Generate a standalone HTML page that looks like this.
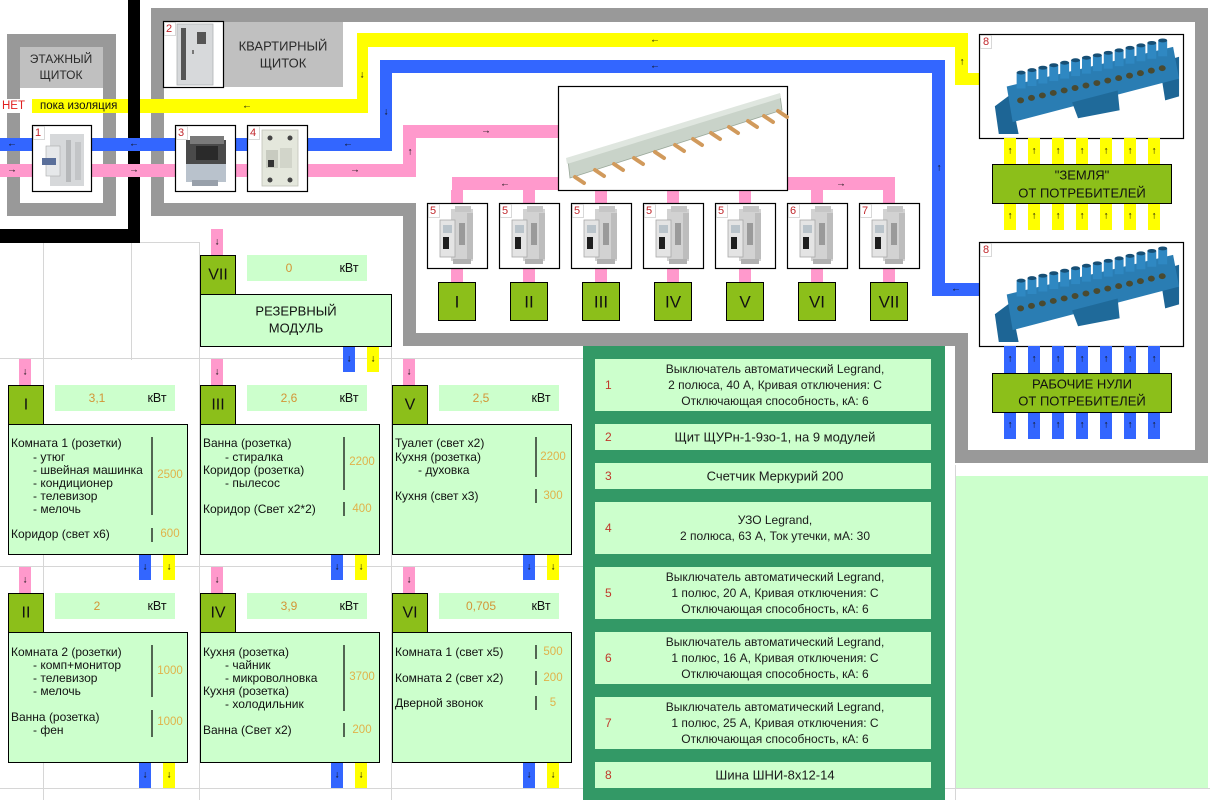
<!DOCTYPE html>
<html><head><meta charset="utf-8"><style>
html,body{margin:0;padding:0;background:#fff;}
svg{display:block;font-family:"Liberation Sans","DejaVu Sans",sans-serif;}
.t{font-size:12px;fill:#111;}
.v{font-size:11.5px;fill:#e0b24a;}
.kv{font-size:12px;fill:#d39536;}
.ar{font-size:10px;fill:#111;}
.num{font-size:11px;fill:#c0262b;}
.tb{font-size:12px;fill:#1a1a1a;}
.tn{font-size:12px;fill:#c0392b;}
</style></head><body>
<svg width="1210" height="800" viewBox="0 0 1210 800" xmlns="http://www.w3.org/2000/svg">
<defs>
<symbol id="brk" viewBox="0 0 60 65">
<rect x="24" y="6" width="22" height="52" fill="#d2d2d2"/>
<rect x="28" y="3" width="16" height="6" fill="#c6c6c6"/>
<rect x="13" y="17" width="15" height="37" fill="#e4e4e4" stroke="#a8a8a8" stroke-width="0.8"/>
<rect x="16" y="34" width="6" height="12" fill="#1e1e1e"/>
<rect x="16" y="22" width="9" height="8" fill="#b9c3ca"/>
<rect x="32" y="20" width="6" height="22" fill="#9a9a9a"/>
<rect x="40" y="10" width="6" height="46" fill="#bdbdbd"/>
<rect x="26" y="56" width="18" height="5" fill="#b0b0b0"/>
</symbol>
<symbol id="term" viewBox="0 0 203 104">
<polygon points="14,72 30,60 38,100 18,100" fill="#1d6595"/>
<polygon points="180,28 200,22 200,62 186,66" fill="#1d6595"/>
<polygon points="26,52 194,12 200,44 32,88" fill="#2a7db3"/>
<polygon points="92,68 138,56 140,76 98,84" fill="#1f6a9a"/>
<g fill="#2f88c2">
<rect x="36" y="38" width="9" height="16"/><rect x="47" y="35.5" width="9" height="16"/><rect x="58" y="33" width="9" height="16"/><rect x="69" y="30.5" width="9" height="16"/><rect x="80" y="28" width="9" height="16"/><rect x="91" y="25.5" width="9" height="16"/><rect x="102" y="23" width="9" height="16"/><rect x="113" y="20.5" width="9" height="16"/><rect x="124" y="18" width="9" height="16"/><rect x="135" y="15.5" width="9" height="16"/><rect x="146" y="13" width="9" height="16"/><rect x="157" y="10.5" width="9" height="16"/><rect x="168" y="8" width="9" height="16"/><rect x="179" y="5.5" width="9" height="16"/>
</g>
<g fill="#174f75">
<ellipse cx="40.5" cy="38" rx="4.5" ry="2"/><ellipse cx="51.5" cy="35.5" rx="4.5" ry="2"/><ellipse cx="62.5" cy="33" rx="4.5" ry="2"/><ellipse cx="73.5" cy="30.5" rx="4.5" ry="2"/><ellipse cx="84.5" cy="28" rx="4.5" ry="2"/><ellipse cx="95.5" cy="25.5" rx="4.5" ry="2"/><ellipse cx="106.5" cy="23" rx="4.5" ry="2"/><ellipse cx="117.5" cy="20.5" rx="4.5" ry="2"/><ellipse cx="128.5" cy="18" rx="4.5" ry="2"/><ellipse cx="139.5" cy="15.5" rx="4.5" ry="2"/><ellipse cx="150.5" cy="13" rx="4.5" ry="2"/><ellipse cx="161.5" cy="10.5" rx="4.5" ry="2"/><ellipse cx="172.5" cy="8" rx="4.5" ry="2"/><ellipse cx="183.5" cy="5.5" rx="4.5" ry="2"/>
</g>
<g fill="#4a4a30">
<ellipse cx="40" cy="66" rx="3.5" ry="3"/><ellipse cx="51" cy="63.5" rx="3.5" ry="3"/><ellipse cx="62" cy="61" rx="3.5" ry="3"/><ellipse cx="73" cy="58.5" rx="3.5" ry="3"/><ellipse cx="84" cy="56" rx="3.5" ry="3"/><ellipse cx="95" cy="53.5" rx="3.5" ry="3"/><ellipse cx="106" cy="51" rx="3.5" ry="3"/><ellipse cx="117" cy="48.5" rx="3.5" ry="3"/><ellipse cx="128" cy="46" rx="3.5" ry="3"/><ellipse cx="139" cy="43.5" rx="3.5" ry="3"/><ellipse cx="150" cy="41" rx="3.5" ry="3"/><ellipse cx="161" cy="38.5" rx="3.5" ry="3"/><ellipse cx="172" cy="36" rx="3.5" ry="3"/><ellipse cx="183" cy="33.5" rx="3.5" ry="3"/>
</g>
</symbol>
</defs>

<!-- faint grid lines -->
<g stroke="#d6d6d6" stroke-width="1">
<line x1="43.5" y1="243" x2="43.5" y2="800"/>
<line x1="131.5" y1="243" x2="131.5" y2="360"/>
<line x1="0" y1="242.5" x2="200" y2="242.5"/>
<line x1="199.5" y1="243" x2="199.5" y2="800"/>
<line x1="0" y1="358.5" x2="583" y2="358.5"/>
<line x1="0" y1="566.5" x2="583" y2="566.5"/>
<line x1="0" y1="788.5" x2="583" y2="788.5"/>
<line x1="955.5" y1="465" x2="955.5" y2="800"/>
<line x1="945" y1="788.5" x2="1210" y2="788.5"/>
<line x1="391.5" y1="346" x2="391.5" y2="800"/>
</g>

<!-- big grey frame -->
<path d="M151,8 H1208 V463 H955 V346 H403 V216 H151 Z M164,22 V203 H416 V333 H968 V450 H1195 V22 Z" fill="#999" fill-rule="evenodd"/>
<rect x="223" y="22" width="120" height="65" fill="#c0c0c0"/>
<text x="283" y="46" font-size="13" fill="#2a2a2a" text-anchor="middle" dominant-baseline="central">КВАРТИРНЫЙ</text>
<text x="283" y="63" font-size="13" fill="#2a2a2a" text-anchor="middle" dominant-baseline="central">ЩИТОК</text>

<!-- floor panel frame -->
<path d="M7,34 H116 V216 H7 Z M20,47 V203 H103 V47 Z" fill="#999" fill-rule="evenodd"/>
<rect x="20" y="47" width="83" height="41" fill="#c0c0c0"/>
<text x="61" y="59" font-size="12" fill="#2a2a2a" text-anchor="middle" dominant-baseline="central">ЭТАЖНЫЙ</text>
<text x="61" y="75" font-size="12" fill="#2a2a2a" text-anchor="middle" dominant-baseline="central">ЩИТОК</text>

<!-- yellow -->
<rect x="0" y="99" width="32" height="14" fill="#fff"/>
<text x="2" y="106" font-size="11.5" fill="#e02020" dominant-baseline="central">НЕТ</text>
<g fill="#ffff00">
<rect x="32" y="99" width="336" height="14"/>
<rect x="357" y="33" width="11" height="80"/>
<rect x="357" y="33" width="611" height="14"/>
<rect x="955" y="33" width="13" height="52"/>
<rect x="955" y="73" width="25" height="12"/>
</g>
<text x="40" y="106" font-size="11.5" fill="#111" dominant-baseline="central">пока изоляция</text>

<!-- black -->
<rect x="128" y="0" width="12" height="243" fill="#000"/>
<rect x="0" y="229" width="140" height="14" fill="#000"/>

<!-- blue -->
<g fill="#3366ff">
<rect x="0" y="138" width="392" height="13"/>
<rect x="380" y="60" width="12" height="91"/>
<rect x="380" y="60" width="565" height="13"/>
<rect x="932" y="60" width="13" height="236"/>
<rect x="932" y="283" width="48" height="13"/>
</g>
<!-- pink -->
<g fill="#ff99cc">
<rect x="0" y="164" width="416" height="13"/>
<rect x="403" y="125" width="13" height="52"/>
<rect x="403" y="125" width="155" height="13"/>
<rect x="452" y="177" width="443" height="13"/>
<rect x="451" y="190" width="12" height="13"/><rect x="523" y="190" width="12" height="13"/><rect x="595" y="190" width="12" height="13"/><rect x="667" y="190" width="12" height="13"/><rect x="739" y="190" width="12" height="13"/><rect x="811" y="190" width="12" height="13"/><rect x="883" y="190" width="12" height="13"/>
<rect x="451" y="268" width="12" height="14"/><rect x="523" y="268" width="12" height="14"/><rect x="595" y="268" width="12" height="14"/><rect x="667" y="268" width="12" height="14"/><rect x="739" y="268" width="12" height="14"/><rect x="811" y="268" width="12" height="14"/><rect x="883" y="268" width="12" height="14"/>
</g>

<!-- arrows on lines -->
<g class="ar" text-anchor="middle" dominant-baseline="central">
<text x="247" y="106">←</text>
<text x="655" y="40">←</text>
<text x="962" y="62">↑</text>
<text x="362" y="75">↓</text>
<text x="12" y="144">←</text>
<text x="134" y="144">←</text>
<text x="348" y="144">←</text>
<text x="655" y="66">←</text>
<text x="386" y="112">↓</text>
<text x="939" y="168">↑</text>
<text x="956" y="289">←</text>
<text x="12" y="170">→</text>
<text x="134" y="170">→</text>
<text x="355" y="170">→</text>
<text x="410" y="152">↑</text>
<text x="486" y="131">→</text>
<text x="505" y="184">←</text>
<text x="841" y="184">→</text>
</g>

<!-- image boxes -->
<g fill="#fff" stroke="#000" stroke-width="1.2">
<rect x="32.5" y="125.5" width="59" height="66"/>
<rect x="175.5" y="125.5" width="60" height="66"/>
<rect x="247.5" y="125.5" width="60" height="66"/>
<rect x="163.5" y="21.5" width="60" height="66"/>
<rect x="558.5" y="86.5" width="229" height="104"/>
<rect x="427.5" y="203.5" width="60" height="65"/>
<rect x="499.5" y="203.5" width="60" height="65"/>
<rect x="571.5" y="203.5" width="60" height="65"/>
<rect x="643.5" y="203.5" width="60" height="65"/>
<rect x="715.5" y="203.5" width="60" height="65"/>
<rect x="787.5" y="203.5" width="60" height="65"/>
<rect x="859.5" y="203.5" width="60" height="65"/>
<rect x="979.5" y="34.5" width="204" height="104"/>
<rect x="979.5" y="242.5" width="204" height="104"/>
</g>

<!-- box 1: 2-pole breaker -->
<g>
<rect x="50" y="134" width="34" height="52" fill="#d6d8da"/>
<rect x="46" y="146" width="14" height="30" fill="#e6e8ea" stroke="#aaa" stroke-width="0.6"/>
<rect x="42" y="158" width="14" height="7" fill="#5a6f9a"/>
<rect x="66" y="140" width="5" height="42" fill="#b6b8ba"/>
<rect x="75" y="142" width="6" height="38" fill="#c3c5c7"/>
</g>
<!-- box 3: meter -->
<g>
<rect x="186" y="140" width="40" height="24" fill="#4a4a4a"/>
<rect x="190" y="136" width="34" height="8" fill="#7a7a7a"/>
<rect x="196" y="146" width="22" height="14" fill="#2a2a2a"/>
<rect x="186" y="164" width="40" height="18" fill="#b9c2cc"/>
<rect x="192" y="180" width="26" height="6" fill="#98a0aa"/>
</g>
<!-- box 4: RCD -->
<g>
<rect x="262" y="130" width="36" height="56" fill="#e4e7dc" stroke="#c0c4b8" stroke-width="0.8"/>
<circle cx="270" cy="138" r="2.5" fill="#444"/><circle cx="290" cy="138" r="2.5" fill="#444"/>
<circle cx="270" cy="180" r="2.5" fill="#444"/><circle cx="290" cy="180" r="2.5" fill="#444"/>
<rect x="266" y="150" width="12" height="18" fill="#c8cbc0"/>
<rect x="280" y="148" width="12" height="20" fill="#d2d5ca"/>
<rect x="268" y="160" width="6" height="7" fill="#333"/>
</g>
<!-- box 2: cabinet -->
<g>
<rect x="177" y="24" width="36" height="61" fill="#d7d9db" stroke="#b0b2b4" stroke-width="0.8"/>
<rect x="181" y="28" width="5" height="52" fill="#555"/>
<rect x="197" y="32" width="9" height="12" fill="#555"/>
<rect x="192" y="50" width="2" height="4" fill="#777"/>
</g>
<!-- busbar comb -->
<g>
<polygon points="568,160 780,95 782,110 570,178" fill="#c9d3c9" stroke="#9aa89a" stroke-width="0.8"/>
<polygon points="566,158 780,93 781,98 567,164" fill="#dfe6df"/>
<g stroke="#d19a5c" stroke-width="4" stroke-linecap="round">
<line x1="575" y1="177" x2="584" y2="183"/>
<line x1="595" y1="170" x2="604" y2="176"/>
<line x1="614" y1="164" x2="623" y2="170"/>
<line x1="634" y1="158" x2="643" y2="164"/>
<line x1="655" y1="152" x2="664" y2="158"/>
<line x1="675" y1="145" x2="684" y2="151"/>
<line x1="693" y1="139" x2="702" y2="145"/>
<line x1="711" y1="133" x2="720" y2="139"/>
<line x1="729" y1="127" x2="738" y2="133"/>
<line x1="748" y1="121" x2="757" y2="127"/>
<line x1="764" y1="116" x2="773" y2="122"/>
<line x1="778" y1="111" x2="787" y2="117"/>
</g>
</g>
<!-- breakers -->
<use href="#brk" x="427" y="203" width="60" height="65"/>
<use href="#brk" x="499" y="203" width="60" height="65"/>
<use href="#brk" x="571" y="203" width="60" height="65"/>
<use href="#brk" x="643" y="203" width="60" height="65"/>
<use href="#brk" x="715" y="203" width="60" height="65"/>
<use href="#brk" x="787" y="203" width="60" height="65"/>
<use href="#brk" x="859" y="203" width="60" height="65"/>
<!-- terminal bars -->
<use href="#term" x="980" y="35" width="203" height="103"/>
<use href="#term" x="980" y="243" width="203" height="103"/>

<!-- small number cells -->
<g fill="none" stroke="#cfcfcf" stroke-width="0.8">
<rect x="33.5" y="126.5" width="11" height="13"/><rect x="176.5" y="126.5" width="11" height="13"/><rect x="248.5" y="126.5" width="11" height="13"/><rect x="164.5" y="22.5" width="11" height="13"/>
<rect x="428.5" y="204.5" width="11" height="13"/><rect x="500.5" y="204.5" width="11" height="13"/><rect x="572.5" y="204.5" width="11" height="13"/><rect x="644.5" y="204.5" width="11" height="13"/><rect x="716.5" y="204.5" width="11" height="13"/><rect x="788.5" y="204.5" width="11" height="13"/><rect x="860.5" y="204.5" width="11" height="13"/>
<rect x="980.5" y="35.5" width="11" height="13"/><rect x="980.5" y="243.5" width="11" height="13"/>
</g>
<g class="num" dominant-baseline="central">
<text x="35" y="133">1</text><text x="178" y="133">3</text><text x="250" y="133">4</text><text x="166" y="29">2</text>
<text x="430" y="211">5</text><text x="502" y="211">5</text><text x="574" y="211">5</text><text x="646" y="211">5</text><text x="718" y="211">5</text><text x="790" y="211">6</text><text x="862" y="211">7</text>
<text x="983" y="42">8</text><text x="983" y="250">8</text>
</g>

<!-- green circuit boxes -->
<g fill="#8cbf1a" stroke="#000" stroke-width="1">
<rect x="438.5" y="282.5" width="37" height="38"/>
<rect x="510.5" y="282.5" width="37" height="38"/>
<rect x="582.5" y="282.5" width="37" height="38"/>
<rect x="654.5" y="282.5" width="37" height="38"/>
<rect x="726.5" y="282.5" width="37" height="38"/>
<rect x="798.5" y="282.5" width="37" height="38"/>
<rect x="870.5" y="282.5" width="37" height="38"/>
</g>
<g font-size="17" fill="#111" text-anchor="middle" dominant-baseline="central">
<text x="457" y="302">I</text><text x="529" y="302">II</text><text x="601" y="302">III</text><text x="673" y="302">IV</text><text x="745" y="302">V</text><text x="817" y="302">VI</text><text x="889" y="302">VII</text>
</g>

<!-- right side strips -->
<g fill="#ffff00">
<rect x="1004" y="138" width="12" height="27"/><rect x="1028" y="138" width="12" height="27"/><rect x="1052" y="138" width="12" height="27"/><rect x="1076" y="138" width="12" height="27"/><rect x="1100" y="138" width="12" height="27"/><rect x="1124" y="138" width="12" height="27"/><rect x="1148" y="138" width="12" height="27"/>
<rect x="1004" y="203" width="12" height="27"/><rect x="1028" y="203" width="12" height="27"/><rect x="1052" y="203" width="12" height="27"/><rect x="1076" y="203" width="12" height="27"/><rect x="1100" y="203" width="12" height="27"/><rect x="1124" y="203" width="12" height="27"/><rect x="1148" y="203" width="12" height="27"/>
</g>
<g fill="#3366ff">
<rect x="1004" y="346" width="12" height="27"/><rect x="1028" y="346" width="12" height="27"/><rect x="1052" y="346" width="12" height="27"/><rect x="1076" y="346" width="12" height="27"/><rect x="1100" y="346" width="12" height="27"/><rect x="1124" y="346" width="12" height="27"/><rect x="1148" y="346" width="12" height="27"/>
<rect x="1004" y="412" width="12" height="27"/><rect x="1028" y="412" width="12" height="27"/><rect x="1052" y="412" width="12" height="27"/><rect x="1076" y="412" width="12" height="27"/><rect x="1100" y="412" width="12" height="27"/><rect x="1124" y="412" width="12" height="27"/><rect x="1148" y="412" width="12" height="27"/>
</g>
<g class="ar" text-anchor="middle" dominant-baseline="central">
<text x="1010" y="151">↑</text><text x="1034" y="151">↑</text><text x="1058" y="151">↑</text><text x="1082" y="151">↑</text><text x="1106" y="151">↑</text><text x="1130" y="151">↑</text><text x="1154" y="151">↑</text>
<text x="1010" y="216">↑</text><text x="1034" y="216">↑</text><text x="1058" y="216">↑</text><text x="1082" y="216">↑</text><text x="1106" y="216">↑</text><text x="1130" y="216">↑</text><text x="1154" y="216">↑</text>
<text x="1010" y="359">↑</text><text x="1034" y="359">↑</text><text x="1058" y="359">↑</text><text x="1082" y="359">↑</text><text x="1106" y="359">↑</text><text x="1130" y="359">↑</text><text x="1154" y="359">↑</text>
<text x="1010" y="425">↑</text><text x="1034" y="425">↑</text><text x="1058" y="425">↑</text><text x="1082" y="425">↑</text><text x="1106" y="425">↑</text><text x="1130" y="425">↑</text><text x="1154" y="425">↑</text>
</g>
<rect x="992.5" y="164.5" width="179" height="39" fill="#8cbf1a" stroke="#000" stroke-width="1"/>
<text x="1082" y="175" font-size="13" fill="#111" text-anchor="middle" dominant-baseline="central">"ЗЕМЛЯ"</text>
<text x="1082" y="193" font-size="13" fill="#111" text-anchor="middle" dominant-baseline="central">ОТ ПОТРЕБИТЕЛЕЙ</text>
<rect x="992.5" y="373.5" width="179" height="39" fill="#8cbf1a" stroke="#000" stroke-width="1"/>
<text x="1082" y="384" font-size="13" fill="#111" text-anchor="middle" dominant-baseline="central">РАБОЧИЕ НУЛИ</text>
<text x="1082" y="401" font-size="13" fill="#111" text-anchor="middle" dominant-baseline="central">ОТ ПОТРЕБИТЕЛЕЙ</text>

<!-- light green area bottom right -->
<rect x="956" y="476" width="252" height="312" fill="#ccffcc"/>

<!-- ===== Load modules ===== -->
<g fill="#ff99cc">
<rect x="211" y="229" width="12" height="26"/>
<rect x="19" y="359" width="12" height="26"/><rect x="211" y="359" width="12" height="26"/><rect x="403" y="359" width="12" height="26"/>
<rect x="19" y="567" width="12" height="26"/><rect x="211" y="567" width="12" height="26"/><rect x="403" y="567" width="12" height="26"/>
</g>
<g fill="#3366ff">
<rect x="343" y="346" width="12" height="26"/>
<rect x="139" y="554" width="12" height="26"/><rect x="331" y="554" width="12" height="26"/><rect x="523" y="554" width="12" height="26"/>
<rect x="139" y="762" width="12" height="26"/><rect x="331" y="762" width="12" height="26"/><rect x="523" y="762" width="12" height="26"/>
</g>
<g fill="#ffff00">
<rect x="367" y="346" width="12" height="26"/>
<rect x="163" y="554" width="12" height="26"/><rect x="355" y="554" width="12" height="26"/><rect x="547" y="554" width="12" height="26"/>
<rect x="163" y="762" width="12" height="26"/><rect x="355" y="762" width="12" height="26"/><rect x="547" y="762" width="12" height="26"/>
</g>
<g class="ar" text-anchor="middle" dominant-baseline="central">
<text x="217" y="242">↓</text>
<text x="25" y="372">↓</text><text x="217" y="372">↓</text><text x="409" y="372">↓</text>
<text x="25" y="580">↓</text><text x="217" y="580">↓</text><text x="409" y="580">↓</text>
<text x="349" y="359">↓</text><text x="373" y="359">↓</text>
<text x="145" y="567">↓</text><text x="169" y="567">↓</text><text x="337" y="567">↓</text><text x="361" y="567">↓</text><text x="529" y="567">↓</text><text x="553" y="567">↓</text>
<text x="145" y="775">↓</text><text x="169" y="775">↓</text><text x="337" y="775">↓</text><text x="361" y="775">↓</text><text x="529" y="775">↓</text><text x="553" y="775">↓</text>
</g>

<!-- kW boxes -->
<g fill="#ccffcc">
<rect x="247" y="255" width="120" height="26"/>
<rect x="55" y="385" width="120" height="26"/><rect x="247" y="385" width="120" height="26"/><rect x="439" y="385" width="120" height="26"/>
<rect x="55" y="593" width="120" height="26"/><rect x="247" y="593" width="120" height="26"/><rect x="439" y="593" width="120" height="26"/>
</g>
<g class="kv" text-anchor="middle" dominant-baseline="central">
<text x="289" y="268">0</text>
<text x="97" y="398">3,1</text><text x="289" y="398">2,6</text><text x="481" y="398">2,5</text>
<text x="97" y="606">2</text><text x="289" y="606">3,9</text><text x="481" y="606">0,705</text>
</g>
<g font-size="12.5" fill="#111" text-anchor="middle" dominant-baseline="central">
<text x="349" y="268">кВт</text>
<text x="157" y="398">кВт</text><text x="349" y="398">кВт</text><text x="541" y="398">кВт</text>
<text x="157" y="606">кВт</text><text x="349" y="606">кВт</text><text x="541" y="606">кВт</text>
</g>

<!-- label boxes -->
<g fill="#8cbf1a" stroke="#000" stroke-width="1">
<rect x="200.5" y="255.5" width="35" height="39"/>
<rect x="8.5" y="385.5" width="35" height="39"/><rect x="200.5" y="385.5" width="35" height="39"/><rect x="392.5" y="385.5" width="35" height="39"/>
<rect x="8.5" y="593.5" width="35" height="39"/><rect x="200.5" y="593.5" width="35" height="39"/><rect x="392.5" y="593.5" width="35" height="39"/>
</g>
<g font-size="16" fill="#111" text-anchor="middle" dominant-baseline="central">
<text x="218" y="275">VII</text>
<text x="26" y="405">I</text><text x="218" y="405">III</text><text x="410" y="405">V</text>
<text x="26" y="613">II</text><text x="218" y="613">IV</text><text x="410" y="613">VI</text>
</g>

<!-- main module boxes -->
<g fill="#ccffcc" stroke="#000" stroke-width="1">
<rect x="200.5" y="294.5" width="191" height="52"/>
<rect x="8.5" y="424.5" width="179" height="130"/><rect x="200.5" y="424.5" width="179" height="130"/><rect x="392.5" y="424.5" width="179" height="130"/>
<rect x="8.5" y="632.5" width="179" height="130"/><rect x="200.5" y="632.5" width="179" height="130"/><rect x="392.5" y="632.5" width="179" height="130"/>
</g>
<text x="296" y="311" font-size="13" fill="#111" text-anchor="middle" dominant-baseline="central">РЕЗЕРВНЫЙ</text>
<text x="296" y="328" font-size="13" fill="#111" text-anchor="middle" dominant-baseline="central">МОДУЛЬ</text>

<!-- dividers -->
<g stroke="#000" stroke-width="1.2">
<line x1="152" y1="437" x2="152" y2="515"/><line x1="152" y1="528" x2="152" y2="542"/>
<line x1="344" y1="437" x2="344" y2="490"/><line x1="344" y1="502" x2="344" y2="516"/>
<line x1="536" y1="437" x2="536" y2="477"/><line x1="536" y1="489" x2="536" y2="503"/>
<line x1="152" y1="645" x2="152" y2="697"/><line x1="152" y1="710" x2="152" y2="737"/>
<line x1="344" y1="645" x2="344" y2="711"/><line x1="344" y1="723" x2="344" y2="737"/>
<line x1="536" y1="645" x2="536" y2="659"/><line x1="536" y1="671" x2="536" y2="685"/><line x1="536" y1="696" x2="536" y2="710"/>
</g>

<!-- module texts -->
<g class="t" dominant-baseline="central">
<text x="11" y="443">Комната 1 (розетки)</text>
<text x="33" y="457">- утюг</text>
<text x="33" y="470">- швейная машинка</text>
<text x="33" y="483">- кондиционер</text>
<text x="33" y="496">- телевизор</text>
<text x="33" y="509">- мелочь</text>
<text x="11" y="534">Коридор (свет х6)</text>

<text x="203" y="443">Ванна (розетка)</text>
<text x="225" y="457">- стиралка</text>
<text x="203" y="470">Коридор (розетка)</text>
<text x="225" y="483">- пылесос</text>
<text x="203" y="509">Коридор (Свет х2*2)</text>

<text x="395" y="443">Туалет (свет х2)</text>
<text x="395" y="457">Кухня (розетка)</text>
<text x="418" y="470">- духовка</text>
<text x="395" y="496">Кухня (свет х3)</text>

<text x="11" y="652">Комната 2 (розетки)</text>
<text x="33" y="665">- комп+монитор</text>
<text x="33" y="678">- телевизор</text>
<text x="33" y="691">- мелочь</text>
<text x="11" y="717">Ванна (розетка)</text>
<text x="33" y="730">- фен</text>

<text x="203" y="652">Кухня (розетка)</text>
<text x="225" y="665">- чайник</text>
<text x="225" y="678">- микроволновка</text>
<text x="203" y="691">Кухня (розетка)</text>
<text x="225" y="704">- холодильник</text>
<text x="203" y="730">Ванна (Свет х2)</text>

<text x="395" y="652">Комната 1 (свет х5)</text>
<text x="395" y="678">Комната 2 (свет х2)</text>
<text x="395" y="703">Дверной звонок</text>
</g>
<g class="v" text-anchor="middle" dominant-baseline="central">
<text x="170" y="475">2500</text><text x="170" y="534">600</text>
<text x="362" y="462">2200</text><text x="362" y="509">400</text>
<text x="553" y="457">2200</text><text x="553" y="496">300</text>
<text x="170" y="671">1000</text><text x="170" y="722">1000</text>
<text x="362" y="677">3700</text><text x="362" y="730">200</text>
<text x="553" y="652">500</text><text x="553" y="678">200</text><text x="553" y="703">5</text>
</g>

<!-- ===== Table ===== -->
<rect x="583" y="346" width="362" height="454" fill="#339966"/>
<g fill="#ccffcc">
<rect x="595" y="359" width="336" height="52"/>
<rect x="595" y="424" width="336" height="26"/>
<rect x="595" y="463" width="336" height="26"/>
<rect x="595" y="502" width="336" height="52"/>
<rect x="595" y="567" width="336" height="52"/>
<rect x="595" y="632" width="336" height="52"/>
<rect x="595" y="697" width="336" height="52"/>
<rect x="595" y="762" width="336" height="26"/>
</g>
<g class="tn" dominant-baseline="central">
<text x="605" y="385">1</text><text x="605" y="437">2</text><text x="605" y="476">3</text><text x="605" y="528">4</text>
<text x="605" y="593">5</text><text x="605" y="658">6</text><text x="605" y="723">7</text><text x="605" y="775">8</text>
</g>
<g class="tb" text-anchor="middle" dominant-baseline="central">
<text x="775" y="369">Выключатель автоматический Legrand,</text>
<text x="775" y="385">2 полюса, 40 А, Кривая отключения: С</text>
<text x="775" y="401">Отключающая способность, кА: 6</text>
<text x="775" y="437" font-size="13">Щит ЩУРн-1-9зо-1, на 9 модулей</text>
<text x="775" y="476" font-size="13">Счетчик Меркурий 200</text>
<text x="775" y="520">УЗО Legrand,</text>
<text x="775" y="536">2 полюса, 63 А, Ток утечки, мА: 30</text>
<text x="775" y="577">Выключатель автоматический Legrand,</text>
<text x="775" y="593">1 полюс, 20 А, Кривая отключения: С</text>
<text x="775" y="609">Отключающая способность, кА: 6</text>
<text x="775" y="642">Выключатель автоматический Legrand,</text>
<text x="775" y="658">1 полюс, 16 А, Кривая отключения: С</text>
<text x="775" y="674">Отключающая способность, кА: 6</text>
<text x="775" y="707">Выключатель автоматический Legrand,</text>
<text x="775" y="723">1 полюс, 25 А, Кривая отключения: С</text>
<text x="775" y="739">Отключающая способность, кА: 6</text>
<text x="775" y="775" font-size="13">Шина ШНИ-8х12-14</text>
</g>
</svg>
</body></html>
